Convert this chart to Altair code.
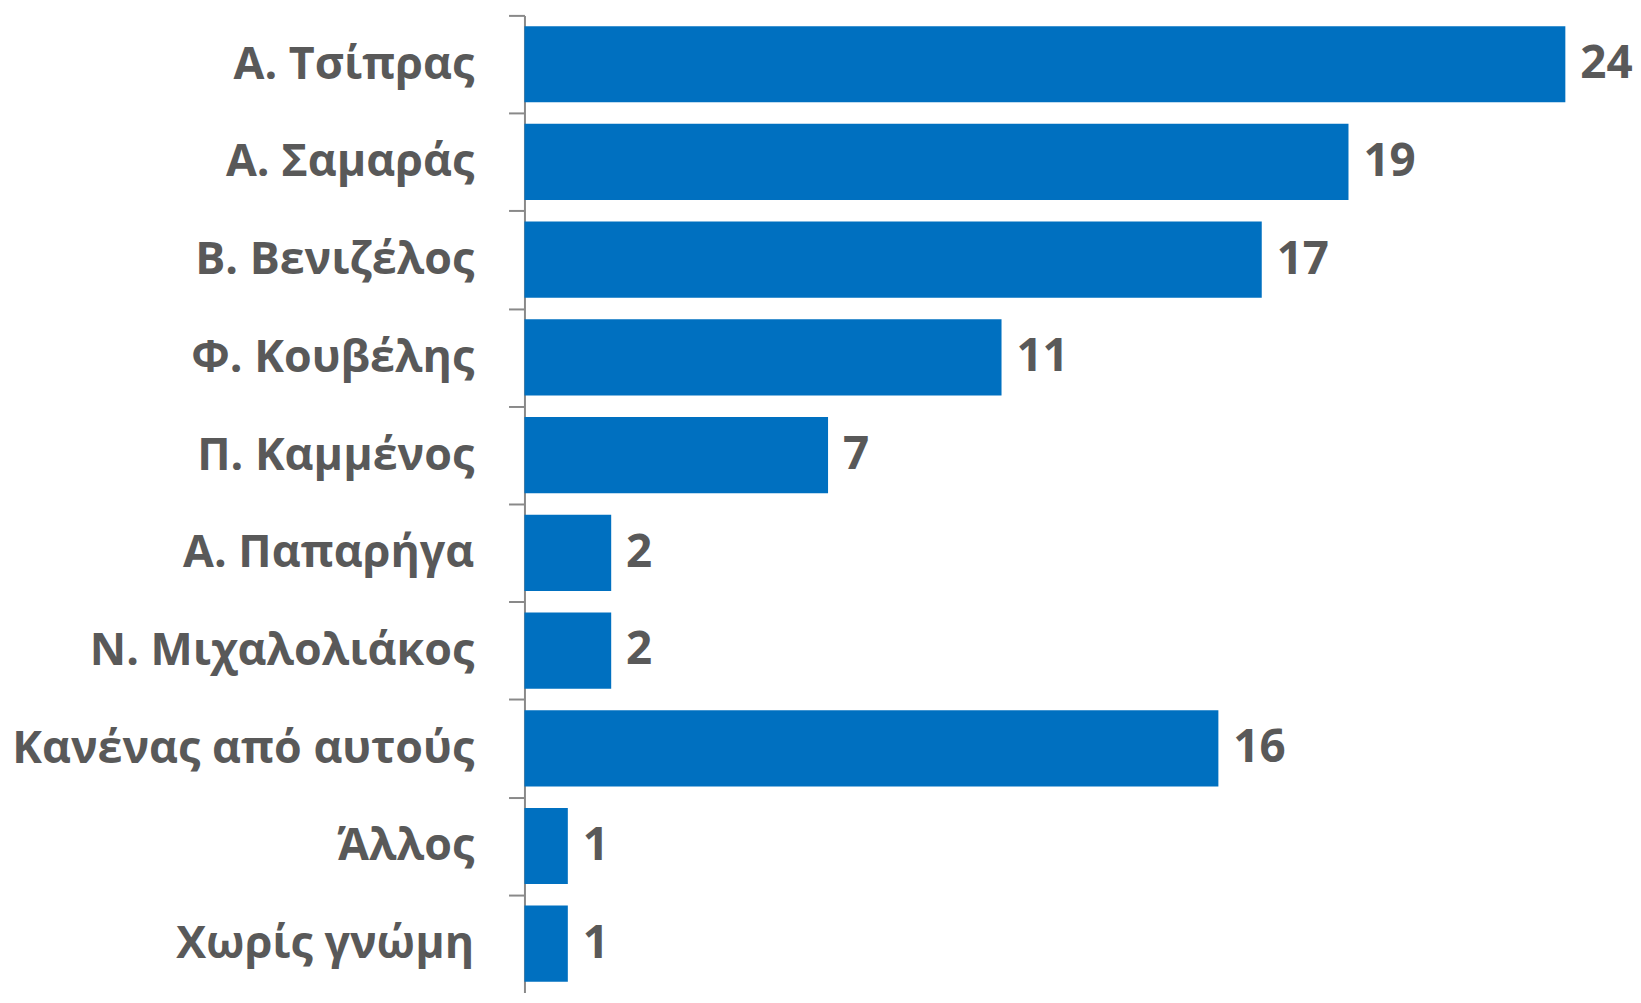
import altair as alt
import pandas as pd

categories = ["Α. Τσίπρας", "Α. Σαμαράς", "Β. Βενιζέλος", "Φ. Κουβέλης", "Π. Καμμένος",
              "Α. Παπαρήγα", "Ν. Μιχαλολιάκος", "Κανένας από αυτούς", "Άλλος", "Χωρίς γνώμη"]
values = [24, 19, 17, 11, 7, 2, 2, 16, 1, 1]

df = pd.DataFrame({"cat": categories, "val": values})

FONT = "Open Sans"
GREY = "#595959"
H = 982
STEP = H / len(categories)

y = alt.Y("cat:N", sort=None, title=None,
          scale=alt.Scale(paddingInner=0.22, paddingOuter=0.11),
          axis=alt.Axis(labelFont=FONT, labelFontSize=45, labelFontWeight="bold",
                        labelColor=GREY, labelPadding=35, tickSize=16,
                        tickColor="#898989", domainColor="#898989",
                        tickWidth=2, domainWidth=2,
                        tickOffset=-STEP / 2, labelOffset=STEP / 2,
                        grid=False, labelLimit=600))
x = alt.X("val:Q", title=None,
          scale=alt.Scale(domain=[0, 25.56], nice=False, zero=True),
          axis=None)

bars = alt.Chart(df).mark_bar(color="#0070C0").encode(x=x, y=y)
text = alt.Chart(df).mark_text(align="left", baseline="middle", dx=15,
                               font=FONT, fontSize=46, fontWeight="bold",
                               color=GREY).encode(x=x, y=y, text="val:Q")

chart = (bars + text).properties(
    width=1114, height=H,
    background="white",
    autosize=alt.AutoSizeParams(type="none"),
    padding={"left": 519, "top": 5, "right": 0, "bottom": 0},
).configure_view(stroke=None, strokeWidth=0).configure_axis(grid=False)

chart.save("out.html", embed_options={"renderer": "svg", "actions": False})
